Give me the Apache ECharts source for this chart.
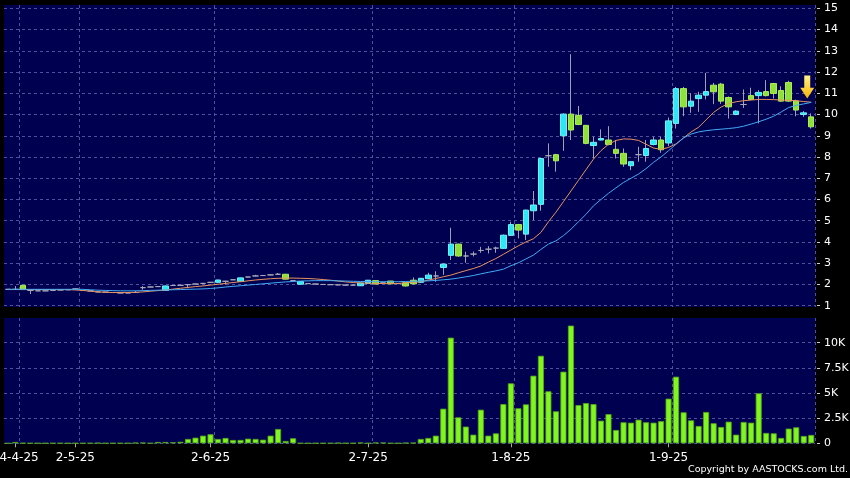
<!DOCTYPE html>
<html><head><meta charset="utf-8">
<script src="https://cdn.jsdelivr.net/npm/echarts@6/dist/echarts.min.js"></script>
<style>html,body{margin:0;padding:0;background:#000;}#c{width:850px;height:478px;}</style>
</head><body><div id="c"></div>
<script>
// ---- data ----
const opens  = [1.77,1.77,1.96,1.72,1.70,1.70,1.72,1.74,1.75,1.79,1.72,1.70,1.65,1.64,1.62,1.60,1.60,1.62,1.85,1.88,
                1.90,1.72,1.95,1.96,1.99,2.02,2.05,2.10,2.10,2.15,2.22,2.15,2.35,2.40,2.42,2.45,2.48,2.48,2.18,2.01,
                2.04,2.02,2.00,1.99,1.98,1.97,1.97,1.94,2.05,2.18,2.08,2.16,2.04,2.08,2.20,2.10,2.27,2.40,2.80,3.37,
                3.90,3.34,3.43,3.60,3.66,3.71,3.70,4.31,4.82,4.37,5.47,5.77,8.06,8.11,9.00,10.02,9.96,9.49,8.54,8.80,
                8.80,8.36,8.17,7.59,8.11,8.07,8.59,8.80,8.66,9.58,11.22,10.39,10.75,10.91,11.38,11.43,10.80,10.00,10.47,10.89,
                10.89,11.08,11.46,11.13,11.51,10.64,10.00,9.89];
const closes = [1.77,1.77,1.76,1.72,1.70,1.70,1.72,1.74,1.75,1.79,1.72,1.70,1.65,1.64,1.62,1.60,1.60,1.62,1.85,1.88,
                1.90,1.93,1.95,1.96,1.99,2.02,2.05,2.10,2.21,2.15,2.22,2.31,2.35,2.40,2.42,2.45,2.48,2.25,2.18,2.14,
                2.04,2.02,2.00,1.99,1.98,1.97,1.97,2.07,2.20,2.02,2.08,2.03,2.04,1.93,2.03,2.29,2.44,2.40,2.96,3.90,
                3.34,3.34,3.43,3.60,3.66,3.71,4.32,4.82,4.56,5.50,5.74,7.93,8.06,7.82,10.02,9.27,9.53,8.64,8.69,8.87,
                8.59,8.17,7.67,7.78,8.11,8.40,8.80,8.34,9.70,11.22,10.36,10.63,10.91,11.08,11.07,10.63,10.36,10.16,10.47,10.71,
                11.04,10.89,10.99,10.63,10.63,10.21,10.08,9.42];
const lows   = [1.76,1.76,1.75,1.55,1.69,1.69,1.71,1.73,1.74,1.78,1.70,1.69,1.64,1.63,1.61,1.59,1.59,1.61,1.75,1.87,
                1.89,1.70,1.94,1.95,1.82,2.01,2.04,2.09,2.08,1.99,2.21,2.14,2.34,2.39,2.41,2.44,2.47,2.24,2.17,2.00,
                2.03,2.01,1.99,1.98,1.97,1.96,1.96,1.93,2.04,2.01,2.07,2.02,2.03,1.90,2.00,2.08,2.25,2.13,2.45,3.15,
                3.30,3.02,3.32,3.49,3.46,3.49,3.68,4.30,4.17,4.09,5.03,5.47,7.54,7.31,8.29,8.80,9.50,8.60,7.93,8.78,
                8.55,7.93,7.54,7.38,7.78,7.78,8.55,8.20,8.51,9.34,9.92,10.08,10.13,10.71,10.49,10.50,9.81,9.97,10.31,10.68,
                9.58,10.85,10.75,10.60,10.60,9.92,9.89,9.34];
const highs  = [1.78,1.92,1.96,1.73,1.71,1.71,1.73,1.75,1.76,1.80,1.74,1.71,1.66,1.65,1.63,1.61,1.61,1.70,1.92,1.89,
                1.91,1.94,1.96,1.97,2.00,2.03,2.06,2.11,2.22,2.17,2.23,2.32,2.36,2.45,2.43,2.46,2.54,2.50,2.19,2.15,
                2.05,2.03,2.01,2.00,1.99,1.98,1.98,2.08,2.21,2.19,2.09,2.17,2.05,2.10,2.33,2.30,2.55,2.62,2.98,4.67,
                3.92,3.54,3.55,3.77,3.80,3.78,4.35,4.95,4.85,5.52,6.40,7.96,8.64,8.15,10.05,12.84,10.40,9.50,8.95,9.30,
                9.45,8.80,8.40,7.80,8.48,8.80,8.95,8.95,9.86,11.30,11.30,10.99,11.07,11.96,11.49,11.49,10.85,10.20,11.18,11.26,
                11.15,11.62,11.49,11.33,11.59,10.70,10.16,10.05];
const volumes = [0,130,20,10,10,10,10,10,10,10,10,10,40,10,10,10,10,60,60,10,
                 130,130,100,150,430,560,760,900,430,530,330,330,460,430,360,760,1420,230,500,10,
                 10,10,10,10,40,20,10,70,10,80,70,10,10,50,50,430,530,760,3440,10500,
                 2580,1660,860,3340,760,990,3900,5960,3480,3870,6720,8700,5170,3180,7120,11700,3800,4000,3900,2250,
                 2900,1320,2090,2050,2350,2090,2050,2200,4440,6620,3080,2280,1720,3110,1990,1620,2150,860,2120,2050,
                 4970,1030,990,530,1460,1590,730,830];
const maFast = [1.76,1.76,1.76,1.76,1.76,1.76,1.76,1.76,1.76,1.74,1.72,1.68,1.65,1.63,1.62,1.62,1.62,1.63,1.65,1.68,
                1.71,1.74,1.78,1.82,1.86,1.90,1.93,1.97,2.01,2.05,2.09,2.13,2.17,2.21,2.24,2.27,2.29,2.30,2.30,2.29,
                2.28,2.26,2.23,2.20,2.16,2.12,2.09,2.07,2.06,2.05,2.04,2.04,2.05,2.08,2.10,2.13,2.20,2.28,2.36,2.44,
                2.55,2.65,2.75,2.87,3.05,3.22,3.42,3.62,3.82,4.00,4.15,4.45,4.95,5.40,5.90,6.40,6.90,7.40,7.90,8.30,
                8.60,8.78,8.85,8.84,8.78,8.60,8.42,8.36,8.45,8.62,8.90,9.18,9.40,9.75,10.10,10.35,10.52,10.60,10.65,10.68,
                10.71,10.71,10.70,10.68,10.67,10.65,10.61,10.58];
const maSlow = [1.77,1.77,1.77,1.77,1.77,1.77,1.77,1.77,1.77,1.77,1.77,1.75,1.73,1.72,1.71,1.70,1.70,1.70,1.71,1.72,
                1.73,1.74,1.75,1.76,1.77,1.78,1.79,1.81,1.84,1.88,1.91,1.94,1.97,2.00,2.03,2.06,2.09,2.12,2.14,2.16,
                2.17,2.18,2.18,2.18,2.17,2.16,2.15,2.14,2.14,2.13,2.13,2.13,2.13,2.14,2.15,2.16,2.17,2.19,2.22,2.25,
                2.30,2.36,2.42,2.50,2.57,2.64,2.72,2.88,3.02,3.20,3.38,3.65,3.90,4.05,4.30,4.60,4.95,5.30,5.70,6.00,
                6.29,6.55,6.80,7.00,7.20,7.45,7.75,8.00,8.30,8.60,8.90,9.08,9.18,9.24,9.28,9.31,9.34,9.38,9.45,9.55,
                9.66,9.78,9.92,10.12,10.33,10.43,10.50,10.57];
const tickIndex = [1, 9, 27, 48, 67, 88];
const tickText  = ['24-4-25', '2-5-25', '2-6-25', '2-7-25', '1-8-25', '1-9-25'];
const volTickValues = [0, 2500, 5000, 7500, 10000];
const volTickText   = ['0', '2.5K', '5K', '7.5K', '10K'];
const arrowAt = [107, 11.30];

// ---- build ----
const days = opens.map((_, i) => i);
const candleFull = opens.map((o, i) => [o, closes[i], lows[i], highs[i]]);
const candleBody = opens.map((o, i) => [o, closes[i], Math.min(o, closes[i]), Math.max(o, closes[i])]);
const splitSet = new Set(tickIndex.map(i => i + 1));
const tickSet = new Set(tickIndex);

const BG = '#000050';
const GRIDLINE = '#50509a';
const FONT = 'DejaVu Sans';
const L = 4, R = 35;

const dashed = { show: true, lineStyle: { color: GRIDLINE, type: [3, 3], width: 1 } };
const hiddenX = (gi, split) => ({
  type: 'category', gridIndex: gi, data: days, boundaryGap: true,
  axisLine: { show: false }, axisTick: { show: false }, axisLabel: { show: false },
  splitLine: split ? Object.assign({ interval: (i) => splitSet.has(i) }, dashed) : { show: false }
});
const hiddenY = (gi) => ({ type: 'value', gridIndex: gi, min: 0, max: 1, show: false, splitLine: { show: false } });
const gridBase = { left: L, right: R, containLabel: false, outerBoundsMode: 'none' };

const chart = echarts.init(document.getElementById('c'), null, { renderer: 'canvas' });
chart.setOption({
  animation: false,
  backgroundColor: '#000',
  grid: [
    Object.assign({ top: 5, height: 302, show: true, backgroundColor: BG, borderWidth: 0 }, gridBase),     // main bg
    Object.assign({ top: 318, height: 125.5, show: true, backgroundColor: BG, borderWidth: 0 }, gridBase), // vol bg
    Object.assign({ top: 8.3, height: 297.4 }, gridBase),   // main data
    Object.assign({ top: 342.7, height: 100.6 }, gridBase)  // vol data
  ],
  xAxis: [
    hiddenX(0, true),
    hiddenX(1, true),
    hiddenX(2, false),
    {
      type: 'category', gridIndex: 3, data: days, boundaryGap: true,
      axisLine: { show: false },
      axisTick: { show: true, alignWithLabel: true, interval: (i) => tickSet.has(i), length: 4, lineStyle: { color: '#aaaaaa' } },
      axisLabel: { show: true, interval: (i) => tickSet.has(i), formatter: (v, i) => tickText[tickIndex.indexOf(i)] || '',
                   color: '#ffffff', fontSize: 12, fontFamily: FONT, margin: 9, hideOverlap: false },
      splitLine: { show: false }
    }
  ],
  yAxis: [
    hiddenY(0), hiddenY(1),
    {
      type: 'value', gridIndex: 2, position: 'right', min: 1, max: 15, interval: 1, offset: 2,
      axisLine: { show: false },
      axisTick: { show: true, length: 3, lineStyle: { color: '#cccccc' } },
      axisLabel: { color: '#ffffff', fontSize: 11, fontFamily: FONT, margin: 7 },
      splitLine: dashed
    },
    {
      type: 'value', gridIndex: 3, position: 'right', min: 0, max: 10000, interval: 2500, offset: 2,
      axisLine: { show: false },
      axisTick: { show: true, length: 3, lineStyle: { color: '#cccccc' } },
      axisLabel: { color: '#ffffff', fontSize: 11, fontFamily: FONT, margin: 7,
                   formatter: (v) => { const k = volTickValues.indexOf(v); return k >= 0 ? volTickText[k] : ''; } },
      splitLine: dashed
    }
  ],
  series: [
    { type: 'candlestick', name: 'wick', xAxisIndex: 2, yAxisIndex: 2, data: candleFull, barWidth: 1,
      itemStyle: { color: '#a0a0b0', color0: '#a0a0b0', borderColor: '#a0a0b0', borderColor0: '#a0a0b0', borderColorDoji: '#a0a0b0', borderWidth: 1 } },
    { type: 'candlestick', name: 'body', xAxisIndex: 2, yAxisIndex: 2, data: candleBody, barWidth: 6,
      itemStyle: { color: '#2ee6f4', color0: '#8fe13a', borderColor: '#70f0f8', borderColor0: '#a8ec5a', borderColorDoji: '#a8a8b8', borderWidth: 1 },
      markPoint: {
        silent: true, label: { show: false },
        symbol: 'path://M4,0 L10,0 L10,13 L14,13 L7,24 L0,13 L4,13 Z',
        symbolSize: [14, 23], symbolOffset: [-4, 0],
        itemStyle: { color: new echarts.graphic.LinearGradient(0, 0, 0, 1, [{ offset: 0, color: '#fff08a' }, { offset: 1, color: '#f5b400' }]) },
        data: [{ coord: arrowAt }]
      } },
    { type: 'line', name: 'MA fast', xAxisIndex: 2, yAxisIndex: 2, data: maFast, showSymbol: false, smooth: false,
      lineStyle: { color: '#e8935e', width: 1 }, z: 3 },
    { type: 'line', name: 'MA slow', xAxisIndex: 2, yAxisIndex: 2, data: maSlow, showSymbol: false, smooth: false,
      lineStyle: { color: '#42aaf5', width: 1 }, z: 3 },
    { type: 'bar', name: 'Volume', xAxisIndex: 3, yAxisIndex: 3, data: volumes, barWidth: 6, clip: false,
      itemStyle: { color: '#80f51e', borderColor: '#55a816', borderWidth: 0.8 } }
  ],
  graphic: [
    { type: 'text', right: 2, top: 465, style: { text: 'Copyright by AASTOCKS.com Ltd.', fill: '#ffffff', font: '9.5px "DejaVu Sans"' } }
  ]
});
</script></body></html>
